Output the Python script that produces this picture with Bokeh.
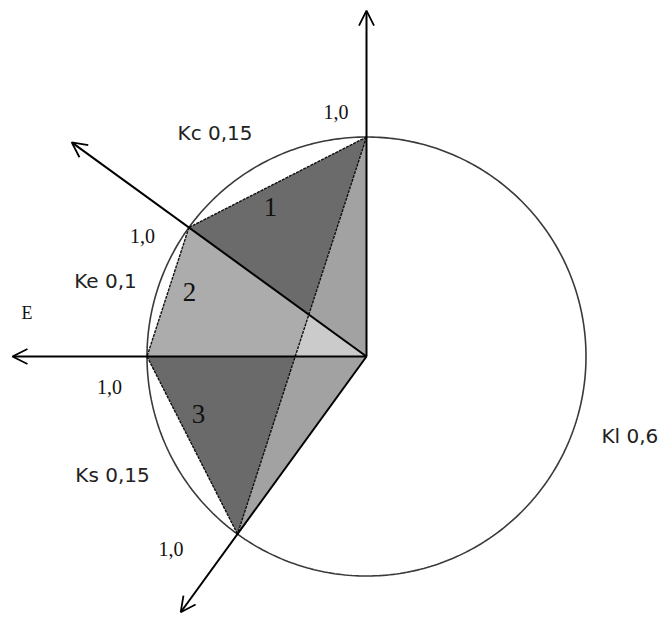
import numpy as np
from bokeh.plotting import figure
from bokeh.models import Arrow, OpenHead, Range1d, Label
from bokeh.embed import file_html
from bokeh.resources import INLINE

# ---------------- data ----------------
sectors = ["Kc", "Ke", "Ks", "Kl"]
shares = [0.15, 0.1, 0.15, 0.6]
share_labels = ["Kc 0,15", "Ke 0,1", "Ks 0,15", "Kl 0,6"]
axis_values = [1.0, 1.0, 1.0, 1.0]
axis_value_labels = ["1,0", "1,0", "1,0", "1,0"]
region_labels = ["1", "2", "3"]
axis_name = "E"
start_angle_deg = 90.0

# ---------------- layout (pixels / styles) ----------------
R_PX = 219.5                      # pixels per unit radius
CX, CY = 366.0, 356.0             # centre in picture pixels
ORIGIN = 0                        # picture offset of the figure
W, H = 660, 617
axis_len = [1.576, 1.66, 1.613, 1.44]
share_label_pos = [(-0.690, 1.020), (-1.189, 0.342), (-1.157, -0.542), (1.200, -0.360)]
value_label_pos = [(-0.139, 1.116), (-1.020, 0.547), (-1.171, -0.141), (-0.891, -0.879)]
region_label_pos = [(-0.437, 0.679), (-0.806, 0.292), (-0.765, -0.260)]
axis_name_pos = (-1.547, 0.196)

# ---------------- geometry ----------------
cum = np.concatenate([[0.0], np.cumsum(shares)])
angles = np.deg2rad(start_angle_deg + 360.0 * cum[:4])
pts = [np.array([v * np.cos(a), v * np.sin(a)]) for v, a in zip(axis_values, angles)]
T, N, L, S = pts
C = np.array([0.0, 0.0])


def intersect(p1, p2, p3, p4):
    d1 = p2 - p1
    d2 = p4 - p3
    den = d1[0] * d2[1] - d1[1] * d2[0]
    t = ((p3[0] - p1[0]) * d2[1] - (p3[1] - p1[1]) * d2[0]) / den
    return p1 + t * d1


X = intersect(T, S, N, C)
Y = intersect(T, S, L, C)

x0 = (ORIGIN - CX) / R_PX
x1 = (ORIGIN + W - CX) / R_PX
y1 = (CY - ORIGIN) / R_PX
y0 = (CY - (ORIGIN + H)) / R_PX

p = figure(width=W, height=H, output_backend="svg", toolbar_location=None,
           x_range=Range1d(x0, x1), y_range=Range1d(y0, y1),
           x_axis_type=None, y_axis_type=None, min_border=0,
           outline_line_color=None, background_fill_color="white",
           border_fill_color="white")
p.grid.visible = False

# circle outline
th = np.linspace(0, 2 * np.pi, 400)
p.line(np.cos(th), np.sin(th), line_color="#3a3a3a", line_width=1.6)

# shaded regions
regions = [
    ([T, C, S], "#a2a2a2"),
    ([T, N, X], "#6b6b6b"),
    ([N, L, Y, X], "#acacac"),
    ([X, Y, C], "#cbcbcb"),
    ([L, S, Y], "#6a6a6a"),
]
p.patches([[q[0] for q in poly] for poly, _ in regions],
          [[q[1] for q in poly] for poly, _ in regions],
          fill_color=[c for _, c in regions], line_color=None)

# dotted edges
edges = [(T, N), (N, L), (L, S), (T, S)]
p.multi_line([[a[0], b[0]] for a, b in edges], [[a[1], b[1]] for a, b in edges],
             line_color="#111111", line_width=1.4, line_dash="3 1")

# axes with open arrow heads
for a, ln in zip(angles, axis_len):
    p.add_layout(Arrow(end=OpenHead(size=15, line_width=1.8, line_color="black"),
                       x_start=0, y_start=0, x_end=ln * np.cos(a), y_end=ln * np.sin(a),
                       line_color="black", line_width=2))

for txt, (x, y) in zip(share_labels, share_label_pos):
    p.add_layout(Label(x=x, y=y, text=txt, text_font="DejaVu Sans", text_font_size="20px",
                       text_color="#222222", text_align="center", text_baseline="middle"))
for txt, (x, y) in zip(axis_value_labels, value_label_pos):
    p.add_layout(Label(x=x, y=y, text=txt, text_font="Liberation Serif", text_font_size="20px",
                       text_color="#111111", text_align="center", text_baseline="middle"))
for txt, (x, y) in zip(region_labels, region_label_pos):
    p.add_layout(Label(x=x, y=y, text=txt, text_font="Liberation Serif", text_font_size="27px",
                       text_color="#111111", text_align="center", text_baseline="middle"))
p.add_layout(Label(x=axis_name_pos[0], y=axis_name_pos[1], text=axis_name,
                   text_font="Liberation Serif", text_font_size="18px",
                   text_color="#111111", text_align="center", text_baseline="middle"))

open("out.html", "w").write(file_html(p, INLINE))
